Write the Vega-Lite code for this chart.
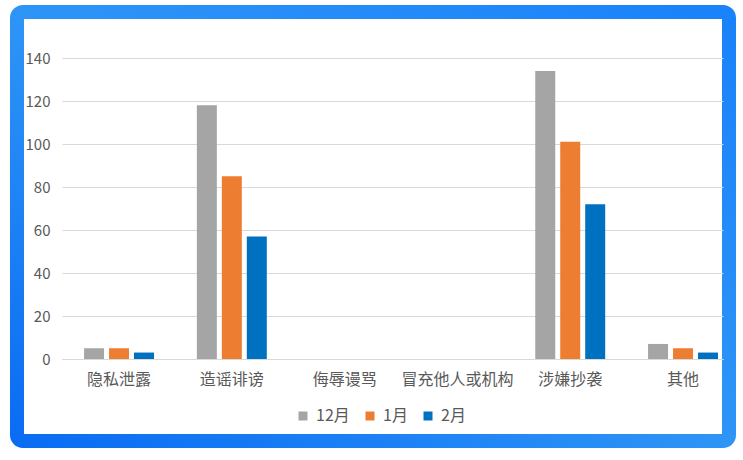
{
  "$schema": "https://vega.github.io/schema/vega-lite/v6.json",
  "width": 712,
  "height": 429,
  "autosize": {"type": "none"},
  "padding": {"left": 17, "top": 12, "right": 14, "bottom": 19},
  "background": "white",
  "data": {
    "values": [
      {"category": "隐私泄露", "month": "12月", "count": 5},
      {"category": "隐私泄露", "month": "1月", "count": 5},
      {"category": "隐私泄露", "month": "2月", "count": 3},
      {"category": "造谣诽谤", "month": "12月", "count": 118},
      {"category": "造谣诽谤", "month": "1月", "count": 85},
      {"category": "造谣诽谤", "month": "2月", "count": 57},
      {"category": "侮辱谩骂", "month": "12月", "count": 0},
      {"category": "侮辱谩骂", "month": "1月", "count": 0},
      {"category": "侮辱谩骂", "month": "2月", "count": 0},
      {"category": "冒充他人或机构", "month": "12月", "count": 0},
      {"category": "冒充他人或机构", "month": "1月", "count": 0},
      {"category": "冒充他人或机构", "month": "2月", "count": 0},
      {"category": "涉嫌抄袭", "month": "12月", "count": 134},
      {"category": "涉嫌抄袭", "month": "1月", "count": 101},
      {"category": "涉嫌抄袭", "month": "2月", "count": 72},
      {"category": "其他", "month": "12月", "count": 7},
      {"category": "其他", "month": "1月", "count": 5},
      {"category": "其他", "month": "2月", "count": 3}
    ]
  },
  "mark": {"type": "bar"},
  "encoding": {
    "x": {
      "field": "category",
      "type": "nominal",
      "sort": null,
      "scale": {"range": [45, 706], "paddingInner": 0.38, "paddingOuter": 0.12, "align": 0.815},
      "axis": {
        "title": null,
        "offset": -82,
        "labelAngle": 0,
        "labelPadding": 12,
        "labelFontSize": 16,
        "labelColor": "#595959",
        "ticks": false,
        "domainColor": "#d9d9d9",
        "grid": false
      }
    },
    "xOffset": {
      "field": "month",
      "type": "nominal",
      "sort": ["12月", "1月", "2月"],
      "scale": {"paddingInner": 0.2, "paddingOuter": 0}
    },
    "y": {
      "field": "count",
      "type": "quantitative",
      "scale": {"domain": [0, 140], "range": [347, 46], "nice": false},
      "axis": {
        "title": null,
        "offset": -45,
        "values": [0, 20, 40, 60, 80, 100, 120, 140],
        "labelPadding": 12,
        "labelFontSize": 15,
        "labelColor": "#595959",
        "ticks": false,
        "domain": false,
        "gridColor": "#d9d9d9"
      }
    },
    "color": {
      "field": "month",
      "type": "nominal",
      "sort": ["12月", "1月", "2月"],
      "scale": {"domain": ["12月", "1月", "2月"], "range": ["#A5A5A5", "#ED7D31", "#0070C0"]},
      "legend": {
        "title": null,
        "orient": "none",
        "direction": "horizontal",
        "legendX": 278,
        "legendY": 396,
        "symbolType": "square",
        "symbolSize": 81,
        "symbolStrokeWidth": 0,
        "labelFontSize": 16,
        "labelColor": "#595959",
        "labelOffset": 5,
        "columnPadding": 12
      }
    }
  },
  "config": {
    "font": "Noto Sans CJK SC",
    "view": {
      "fill": "white",
      "stroke": {
        "gradient": "linear",
        "x1": 0, "y1": 1, "x2": 1, "y2": 0,
        "stops": [
          {"offset": 0, "color": "#0A6CF2"},
          {"offset": 0.5, "color": "#2E95F7"},
          {"offset": 1, "color": "#1A82FA"}
        ]
      },
      "strokeWidth": 14,
      "cornerRadius": 6
    }
  }
}
